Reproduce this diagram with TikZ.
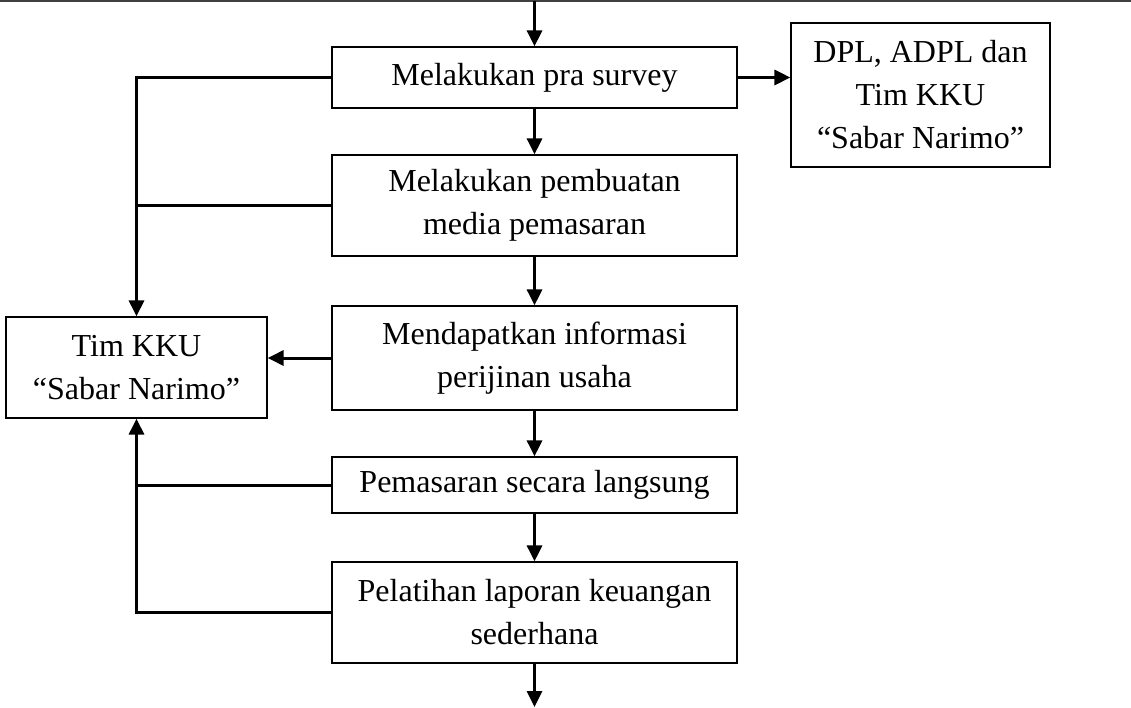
\documentclass[tikz,border=0pt]{standalone}
\usepackage{fontspec}
\setmainfont{Liberation Serif}
\usetikzlibrary{arrows.meta}
\usetikzlibrary{calc}
\usetikzlibrary{positioning}
\tikzset{
  % boxes of the activity flow
  process/.style={
    draw,line width=1.2pt,align=center,inner sep=0pt,
    font=\fontsize{32}{43}\selectfont,
  },
  % connectors are thicker than the box borders
  link/.style={line width=3pt},
  flow/.style={link,-{Triangle[length=16pt,width=15pt]}},
  % rule across the top of the page
  rule/.style={line width=1.2pt,black!75},
}

\begin{document}
\begin{tikzpicture}[x=1pt,y=-1pt]
  \useasboundingbox (0,0) rectangle (1131,708);

  % main column
  \node[process,minimum width=405pt,minimum height=61pt] (survey) at (534.5,77.5)
    {Melakukan pra survey};
  \node[process,minimum width=405pt,minimum height=101pt] (media) at (534.5,205.5)
    {Melakukan pembuatan\\media pemasaran};
  \node[process,minimum width=405pt,minimum height=104pt] (info) at (534.5,358)
    {Mendapatkan informasi\\perijinan usaha};
  \node[process,minimum width=405pt,minimum height=56pt] (direct) at (534.5,485)
    {Pemasaran secara langsung};
  \node[process,minimum width=405pt,minimum height=101pt] (report) at (534.5,612.5)
    {Pelatihan laporan keuangan\\sederhana};

  % side boxes
  \node[process,minimum width=259pt,minimum height=144pt] (dpl) at (920.5,95)
    {DPL, ADPL dan\\Tim KKU\\“Sabar Narimo”};
  \node[process,minimum width=261pt,minimum height=101pt] (tim) at (136.5,367.5)
    {Tim KKU\\“Sabar Narimo”};

  \coordinate (ruleL) at (0,1);
  \coordinate (ruleR) at (1131,1);
  \coordinate (in) at (534.5,1);
  \coordinate (out) at (534.5,707);

  \draw[rule] (ruleL) -- (ruleR);

  % down the column
  \draw[flow] (in) -- (survey.north);
  \draw[flow] (survey.south) -- (media.north);
  \draw[flow] (media.south) -- (info.north);
  \draw[flow] (info.south) -- (direct.north);
  \draw[flow] (direct.south) -- (report.north);
  \draw[flow] (report.south) -- (out);

  % to the right
  \draw[flow] (survey.east) -- (survey.east -| dpl.west);

  % back to the team on the left
  \draw[flow] (survey.west) -| (tim.north);
  \draw[link] (media.west) -- (media.west -| tim.north);
  \draw[flow] (info.west) -- (info.west -| tim.east);
  \draw[flow] (direct.west) -| (tim.south);
  \draw[link] (report.west) -| (direct.west -| tim.south);
\end{tikzpicture}
\end{document}
